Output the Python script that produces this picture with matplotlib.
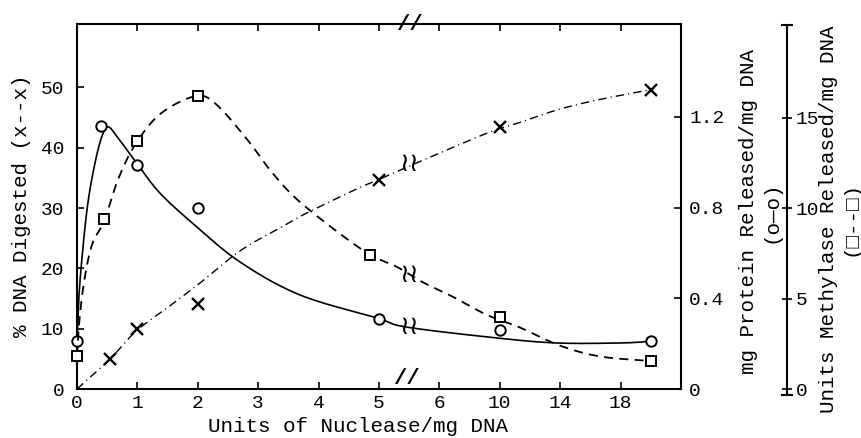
import numpy as np
import matplotlib
matplotlib.use('Agg')
import matplotlib.pyplot as plt

plt.rcParams['font.family'] = ['Liberation Mono', 'DejaVu Sans Mono', 'DejaVu Sans']

# units of nuclease / mg DNA and the three measured responses
dose_digest = [0.55, 1, 2, 5, 10, 20]
pct_digested = [5.0, 10.0, 14.1, 34.7, 43.4, 49.5]

dose_protein = [0, 0.4, 1, 2, 5, 10, 20]
protein = [0.21, 1.16, 0.99, 0.80, 0.31, 0.26, 0.21]

dose_methylase = [0, 0.45, 1, 2, 4.85, 10, 20]
methylase = [1.83, 9.4, 13.7, 16.2, 7.4, 4.0, 1.55]

# hand-drawn curves through the points
digest_curve_x = [0, 0.55, 0.98, 1.54, 2.04, 2.7, 3.36, 3.81, 4.64, 4.97, 5.4, 5.84,
                  9.15, 11.34, 13.99, 16.64, 19.75]
digest_curve_y = [0, 5.0, 9.6, 13.8, 17.6, 22.9, 26.7, 29.2, 33.2, 34.6, 36.5, 38.4,
                  42.4, 44.2, 46.4, 48.0, 49.5]

protein_curve_x = [0, 0.03, 0.09, 0.18, 0.3, 0.42, 0.52, 0.68, 0.98, 1.37, 1.95, 2.7,
                   3.69, 4.97, 5.46, 9.82, 13.79, 17.96, 20]
protein_curve_y = [0.21, 0.40, 0.60, 0.82, 1.0, 1.12, 1.156, 1.107, 1.0, 0.865, 0.723,
                   0.56, 0.415, 0.313, 0.273, 0.225, 0.203, 0.203, 0.21]

methylase_curve_x = [0, 0.04, 0.12, 0.25, 0.45, 0.68, 0.96, 1.37, 1.95, 2.29, 2.82,
                     3.2, 3.64, 4.35, 4.87, 5.3, 5.73, 6.9, 9.15, 11.34, 13.99, 16.64, 19.95]
methylase_curve_y = [1.83, 3.8, 6.0, 8.0, 9.3, 11.6, 13.5, 15.2, 16.2, 15.8, 13.8,
                     12.1, 10.5, 8.6, 7.4, 6.75, 5.9, 5.1, 4.1, 3.4, 2.4, 1.8, 1.55]

x_ticks = [0, 1, 2, 3, 4, 5, 6, 10, 14, 18]


def fwd(x):
    # broken axis: linear to 6, then 4 units per division
    x = np.asarray(x, float)
    return np.where(x <= 6, x, 6 + (x - 6) / 4)


def inv(p):
    p = np.asarray(p, float)
    return np.where(p <= 6, p, 6 + (p - 6) * 4)


def smooth(xs, ys, n=16):
    # Catmull-Rom through the traced points, done in axis position space
    pts = np.column_stack([fwd(xs), np.asarray(ys, float)])
    ext = np.vstack([2 * pts[0] - pts[1], pts, 2 * pts[-1] - pts[-2]])
    t = np.linspace(0, 1, n, endpoint=False)[:, None]
    out = []
    for i in range(1, len(ext) - 2):
        p0, p1, p2, p3 = ext[i - 1:i + 3]
        out.append(0.5 * (2 * p1 + (p2 - p0) * t
                          + (2 * p0 - 5 * p1 + 4 * p2 - p3) * t ** 2
                          + (3 * p1 - p0 - 3 * p2 + p3) * t ** 3))
    out.append(pts[-1:])
    seg = np.vstack(out)
    return inv(seg[:, 0]), seg[:, 1]


W, H = 862, 438
fig = plt.figure(figsize=(W / 100, H / 100), dpi=100)
ax = fig.add_axes([77 / W, 1 - 389 / H, 604 / W, 365 / H])
ax.set_xscale('function', functions=(fwd, inv))
ax.set_xlim(0, 22)
ax.set_ylim(0, 60.5)

for s in ax.spines.values():
    s.set_linewidth(1.5)

ax.set_xticks(x_ticks)
ax.set_xticklabels([str(v) for v in x_ticks])
ax.set_yticks([0, 10, 20, 30, 40, 50])
ax.tick_params(axis='x', top=True, direction='in', length=5, width=1.2, labelsize=14, pad=4)
ax.tick_params(axis='y', direction='in', length=5, width=1.2, labelsize=14, pad=9)

# protein axis
ax2 = ax.twinx()
ax2.set_ylim(0, 1.61)
ax2.set_yticks([0, 0.4, 0.8, 1.2])
ax2.set_yticklabels(['0', '0.4', '0.8', '1.2'])
ax2.tick_params(axis='y', direction='in', length=5, width=1.2, labelsize=14, pad=6)
for s in ax2.spines.values():
    s.set_visible(False)

# methylase axis, separate spine further right
ax3 = fig.add_axes([77 / W, 1 - 395 / H, 604 / W, 370 / H], sharex=ax)
ax3.patch.set_visible(False)
ax3.set_ylim(-6 / 18.07, 364 / 18.07)
for k, s in ax3.spines.items():
    s.set_visible(k == 'right')
ax3.spines['right'].set_position(('axes', (787 - 77) / 604))
ax3.spines['right'].set_linewidth(1.5)
ax3.yaxis.tick_right()
ax3.set_yticks([0, 5, 10, 15])
ax3.tick_params(axis='y', direction='inout', length=7, width=1.2, labelsize=14, pad=3)
ax3.set_yticks([-6 / 18.07, 364 / 18.07], minor=True)
ax3.tick_params(axis='y', which='minor', direction='inout', length=8, width=1.5)
ax3.tick_params(axis='x', which='both', bottom=False, top=False,
                labelbottom=False, labeltop=False)

# % digested
cx, cy = smooth(digest_curve_x, digest_curve_y)
ax.plot(cx, cy, color='black', lw=1.0, dashes=(6, 3, 0.8, 3))
ax.plot(dose_digest, pct_digested, 'x', color='black', ms=9, mew=1.7)

# protein released
px_, py_ = smooth(protein_curve_x, protein_curve_y)
ax2.plot(px_, py_, color='black', lw=1.2, clip_on=False)
ax2.plot(dose_protein, protein, 'o', mfc='white', mec='black', ms=7.5, mew=1.4,
         clip_on=False, zorder=4)

# methylase released
mx, my = smooth(methylase_curve_x, methylase_curve_y)
ax3.plot(mx, my, color='black', lw=1.3, dashes=(5, 3.5))
ax3.plot(dose_methylase, methylase, 's', mfc='white', mec='black', ms=6.5, mew=1.4,
         clip_on=False, zorder=4)

# break marks on the curves and on the x axis
brk = dict(ha='center', va='center', fontsize=19, family=['DejaVu Sans'])
ax.text(5.5, 37.3, '≀≀', **brk)
ax2.text(5.5, 0.273, '≀≀', **brk)
ax3.text(5.5, 6.3, '≀≀', **brk)
ax.text(5.5, 1.0, '//', transform=ax.get_xaxis_transform(), ha='center', va='center',
        fontsize=16, fontweight='bold')
ax.text(5.45, 0.03, '//', transform=ax.get_xaxis_transform(), ha='center', va='center',
        fontsize=16, fontweight='bold')

# axis titles
fig.text(22 / W, 1 - 206 / H, '% DNA Digested (x--x)', rotation=90,
         ha='center', va='center', fontsize=15)
fig.text(358 / W, 1 - 427 / H, 'Units of Nuclease/mg DNA',
         ha='center', va='center', fontsize=15)
fig.text(760 / W, 1 - 212 / H, 'mg Protein Released/mg DNA\n(o—o)', rotation=90,
         ha='center', va='center', multialignment='center', fontsize=15)
fig.text(840 / W, 1 - 219 / H, 'Units Methylase Released/mg DNA\n(□--□)', rotation=90,
         ha='center', va='center', multialignment='center', fontsize=15)

fig.savefig('out.png', dpi=100)
